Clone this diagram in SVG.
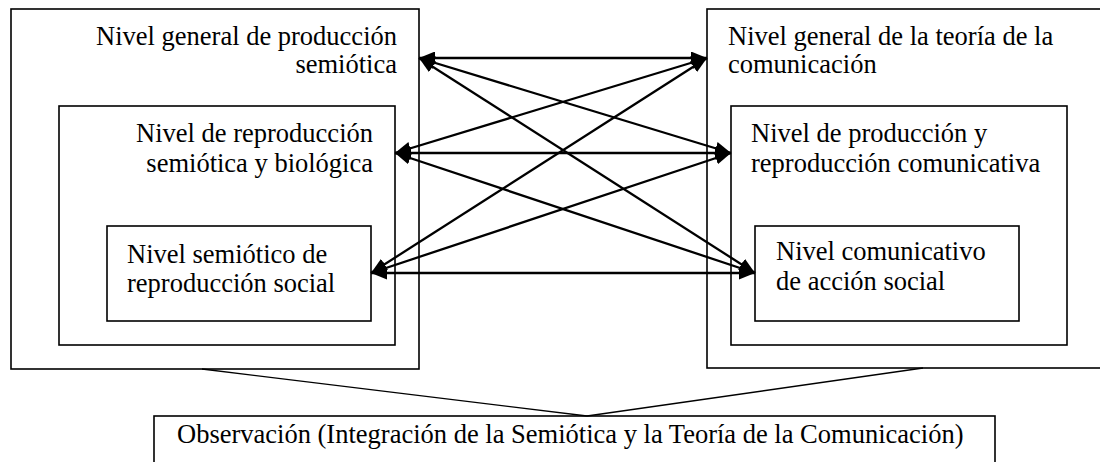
<svg xmlns="http://www.w3.org/2000/svg" width="1100" height="462" viewBox="0 0 1100 462">
<style>
.box{fill:none;stroke:#000;stroke-width:1.6}
.t{font-family:"Liberation Serif","Times New Roman",serif;font-size:26.5px;fill:#000}
.r{text-anchor:end}
.c{stroke:#000;stroke-width:2.3;fill:none}
.l{stroke:#000;stroke-width:1.4;fill:none}
</style>
<defs>
<marker id="ah" viewBox="0 0 16 13" refX="16" refY="6.5" markerWidth="16" markerHeight="13" markerUnits="userSpaceOnUse" orient="auto-start-reverse">
<path d="M0,0 L16,6.5 L0,13 Z" fill="#000"/>
</marker>
</defs>
<rect width="1100" height="462" fill="#fff"/>
<g id="left-outer">
<rect class="box" x="11" y="9" width="408" height="360"/>
<text class="t r" x="397" y="45">Nivel general de producción</text>
<text class="t r" x="397" y="73">semiótica</text>
</g>
<g id="left-middle">
<rect class="box" x="59" y="106" width="336" height="239"/>
<text class="t r" x="373" y="142">Nivel de reproducción</text>
<text class="t r" x="373" y="172">semiótica y biológica</text>
</g>
<g id="left-inner">
<rect class="box" x="107" y="226" width="264" height="95"/>
<text class="t" x="127" y="263">Nivel semiótico de</text>
<text class="t" x="127" y="292">reproducción social</text>
</g>
<g id="right-outer">
<rect class="box" x="707" y="9" width="410" height="359"/>
<text class="t" x="728" y="45">Nivel general de la teoría de la</text>
<text class="t" x="728" y="73">comunicación</text>
</g>
<g id="right-middle">
<rect class="box" x="731" y="106" width="336" height="239"/>
<text class="t" x="751" y="142">Nivel de producción y</text>
<text class="t" x="751" y="172">reproducción comunicativa</text>
</g>
<g id="right-inner">
<rect class="box" x="755" y="226" width="264" height="95"/>
<text class="t" x="776" y="260">Nivel comunicativo</text>
<text class="t" x="776" y="290">de acción social</text>
</g>
<g id="observacion">
<rect class="box" x="154" y="416" width="841" height="60"/>
<text class="t" x="177" y="443">Observación (Integración de la Semiótica y la Teoría de la Comunicación)</text>
</g>
<g id="connectors">
<line class="c" x1="419" y1="58" x2="707" y2="58" marker-start="url(#ah)" marker-end="url(#ah)"/>
<line class="c" x1="419" y1="58" x2="731" y2="153" marker-start="url(#ah)" marker-end="url(#ah)"/>
<line class="c" x1="419" y1="58" x2="755" y2="273" marker-start="url(#ah)" marker-end="url(#ah)"/>
<line class="c" x1="395" y1="153" x2="707" y2="58" marker-start="url(#ah)" marker-end="url(#ah)"/>
<line class="c" x1="395" y1="153" x2="731" y2="153" marker-start="url(#ah)" marker-end="url(#ah)"/>
<line class="c" x1="395" y1="153" x2="755" y2="273" marker-start="url(#ah)" marker-end="url(#ah)"/>
<line class="c" x1="371" y1="273" x2="707" y2="58" marker-start="url(#ah)" marker-end="url(#ah)"/>
<line class="c" x1="371" y1="273" x2="731" y2="153" marker-start="url(#ah)" marker-end="url(#ah)"/>
<line class="c" x1="371" y1="273" x2="755" y2="273" marker-start="url(#ah)" marker-end="url(#ah)"/>
<line class="l" x1="202" y1="369" x2="587" y2="416"/>
<line class="l" x1="923" y1="368" x2="587" y2="416"/>
</g>
</svg>
